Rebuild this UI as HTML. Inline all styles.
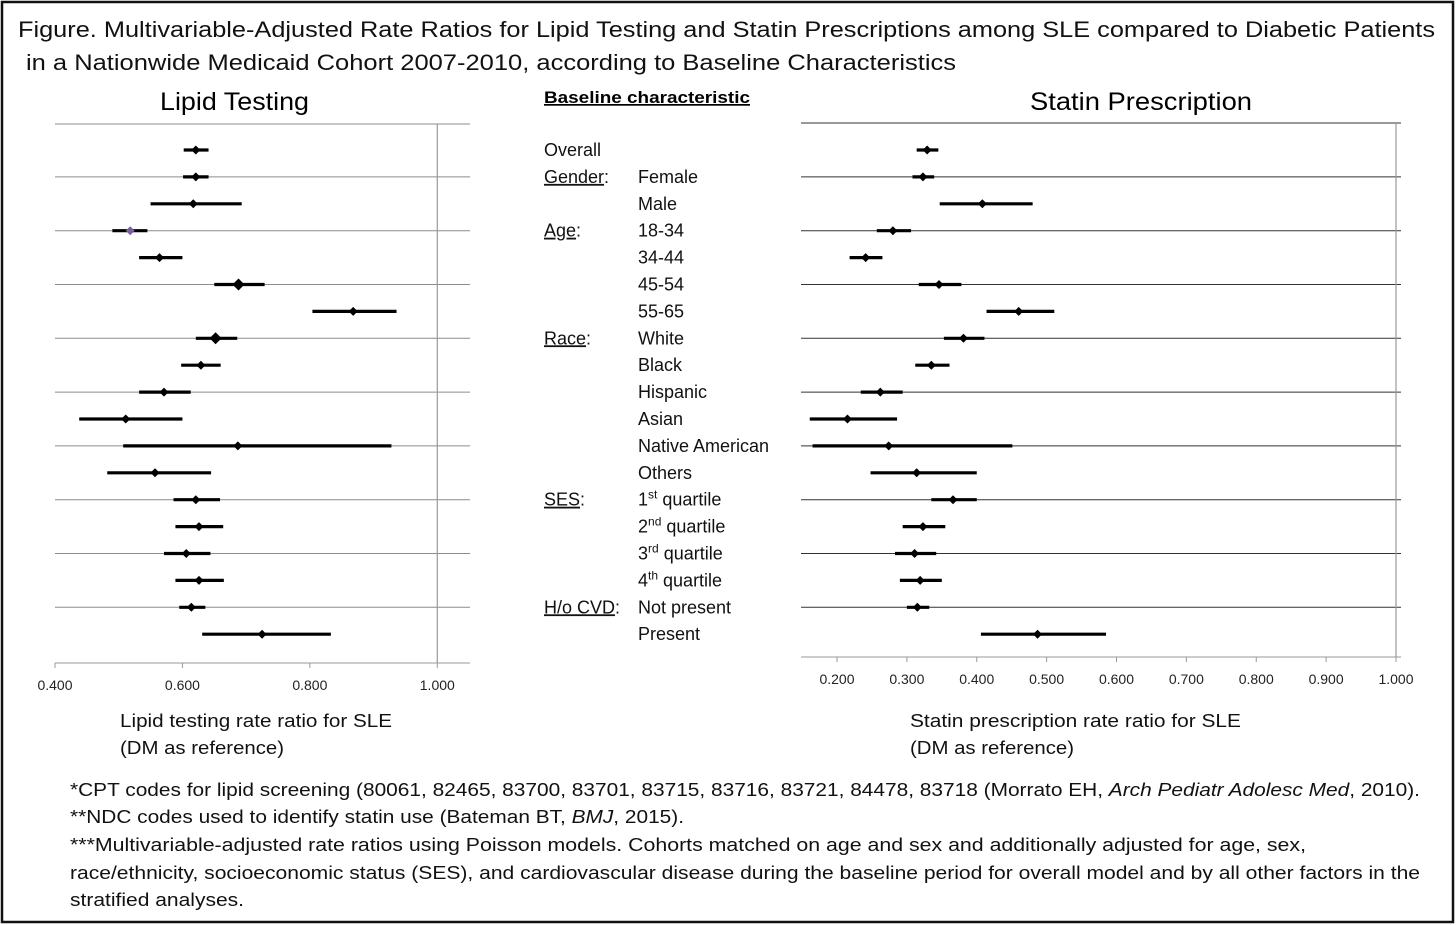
<!DOCTYPE html>
<html><head><meta charset="utf-8"><style>
html,body{margin:0;padding:0;background:#fff;}
svg{display:block;font-family:"Liberation Sans",sans-serif;}
</style></head><body>
<svg id="fig" width="1456" height="925" viewBox="0 0 1456 925" xmlns="http://www.w3.org/2000/svg">
<rect x="2" y="2" width="1451" height="920" fill="#fff" stroke="#111" stroke-width="2.5"/>
<g font-size="22" fill="#111">
<text x="18" y="37" textLength="1417" lengthAdjust="spacingAndGlyphs">Figure. Multivariable-Adjusted Rate Ratios for Lipid Testing and Statin Prescriptions among SLE compared to Diabetic Patients</text>
<text x="26" y="70" textLength="930" lengthAdjust="spacingAndGlyphs">in a Nationwide Medicaid Cohort 2007-2010, according to Baseline Characteristics</text>
</g>
<text x="160" y="110" font-size="25" textLength="149" lengthAdjust="spacingAndGlyphs">Lipid Testing</text>
<text x="1030" y="110" font-size="25" textLength="222" lengthAdjust="spacingAndGlyphs">Statin Prescription</text>
<text x="544" y="103" font-size="17" font-weight="bold" text-decoration="underline" textLength="206" lengthAdjust="spacingAndGlyphs">Baseline characteristic</text>
<g id="labels" font-size="18" fill="#111"></g>
<g id="left"></g>
<g id="right"></g>
<g font-size="18" fill="#111">
<text x="120" y="727" textLength="272" lengthAdjust="spacingAndGlyphs">Lipid testing rate ratio for SLE</text>
<text x="120" y="754" textLength="164" lengthAdjust="spacingAndGlyphs">(DM as reference)</text>
<text x="910" y="727" textLength="331" lengthAdjust="spacingAndGlyphs">Statin prescription rate ratio for SLE</text>
<text x="910" y="754" textLength="164" lengthAdjust="spacingAndGlyphs">(DM as reference)</text>
</g>
<g font-size="18" fill="#111">
<text x="70" y="796" textLength="1350" lengthAdjust="spacingAndGlyphs">*CPT codes for lipid screening (80061, 82465, 83700, 83701, 83715, 83716, 83721, 84478, 83718 (Morrato EH, <tspan font-style="italic">Arch Pediatr Adolesc Med</tspan>, 2010).</text>
<text x="70" y="823" textLength="614" lengthAdjust="spacingAndGlyphs">**NDC codes used to identify statin use (Bateman BT, <tspan font-style="italic">BMJ</tspan>, 2015).</text>
<text x="70" y="851" textLength="1236" lengthAdjust="spacingAndGlyphs">***Multivariable-adjusted rate ratios using Poisson models.  Cohorts matched on age and sex and additionally adjusted for age, sex,</text>
<text x="70" y="879" textLength="1350" lengthAdjust="spacingAndGlyphs">race/ethnicity, socioeconomic status (SES), and cardiovascular disease during the baseline period for overall model and by all other factors in the</text>
<text x="70" y="906" textLength="174" lengthAdjust="spacingAndGlyphs">stratified analyses.</text>
</g>
</svg>
<script>
const groups = ["Overall","Gender:","","Age:","","","","Race:","","","","","","SES:","","","","H/o CVD:",""];
const categories = ["","Female","Male","18-34","34-44","45-54","55-65","White","Black","Hispanic","Asian","Native American","Others","1|st| quartile","2|nd| quartile","3|rd| quartile","4|th| quartile","Not present","Present"];
const lipidEst = [0.621,0.621,0.617,0.518,0.564,0.688,0.868,0.652,0.629,0.571,0.511,0.687,0.557,0.621,0.626,0.606,0.626,0.614,0.725];
const lipidLo  = [0.602,0.601,0.550,0.490,0.532,0.650,0.804,0.621,0.598,0.532,0.438,0.507,0.482,0.586,0.589,0.571,0.589,0.595,0.631];
const lipidHi  = [0.641,0.641,0.693,0.545,0.600,0.729,0.936,0.686,0.660,0.613,0.600,0.928,0.645,0.659,0.664,0.644,0.665,0.636,0.833];
const statinEst = [0.329,0.323,0.408,0.280,0.241,0.346,0.460,0.381,0.335,0.262,0.215,0.274,0.314,0.366,0.323,0.311,0.319,0.315,0.487];
const statinLo  = [0.314,0.308,0.347,0.257,0.218,0.317,0.414,0.353,0.312,0.234,0.161,0.165,0.248,0.335,0.294,0.283,0.290,0.300,0.406];
const statinHi  = [0.345,0.339,0.480,0.306,0.265,0.378,0.511,0.411,0.361,0.294,0.286,0.451,0.400,0.400,0.355,0.342,0.350,0.332,0.585];
const lipidTicks = [0.4,0.6,0.8,1.0];
const statinTicks = [0.2,0.3,0.4,0.5,0.6,0.7,0.8,0.9,1.0];

const NS="http://www.w3.org/2000/svg";
function mk(tag,attrs,parent){const e=document.createElementNS(NS,tag);for(const k in attrs)e.setAttribute(k,attrs[k]);parent.appendChild(e);return e;}
const rowY = i => 150 + i*26.9;

const lab=document.getElementById('labels');
groups.forEach((g,i)=>{
  if(g){
    const t=mk('text',{x:544,y:rowY(i)+6},lab);
    
    
    if(g==="Overall"){t.textContent=g;}
    else{const name=g.replace(':','');const ts=mk('tspan',{'text-decoration':'underline'},t);ts.textContent=name;const c=mk('tspan',{},t);c.textContent=':';}
  }
  const c=categories[i];
  if(c){
    const t=mk('text',{x:638,y:rowY(i)+6},lab);
    
    
    const parts=c.split('|');
    if(parts.length===3){
      const a=mk('tspan',{},t);a.textContent=parts[0];
      const b=mk('tspan',{dy:-7,'font-size':12},t);b.textContent=parts[1];
      const d=mk('tspan',{dy:7},t);d.textContent=parts[2];
    } else t.textContent=c;
  }
});

function chart(gid,lineLeft,x0,x1,vmin,vmax,yTop,yAxis,lineRight,ticks,est,lo,hi,gridColor,big){
  const g=document.getElementById(gid);
  const sx=v=>x0+(v-vmin)/(vmax-vmin)*(x1-x0);
  const l=mk('line',{x1:lineLeft,y1:yTop,x2:lineRight,y2:yTop,stroke:gridColor,'stroke-width':1},g);
  
  
  for(let i=1;i<19;i+=2){
    const ln=mk('line',{x1:lineLeft,y1:rowY(i),x2:lineRight,y2:rowY(i),stroke:gridColor,'stroke-width':1},g);
    
    
  }
  const ax=mk('line',{x1:lineLeft,y1:yAxis,x2:lineRight,y2:yAxis,stroke:'#999','stroke-width':1},g);
  
  
  const ref=mk('line',{x1:sx(1.0),y1:yTop,x2:sx(1.0),y2:yAxis,stroke:'#999','stroke-width':1.2},g);
  
  
  ticks.forEach(t=>{
    const tk=mk('line',{x1:sx(t),y1:yAxis,x2:sx(t),y2:yAxis+5,stroke:'#999'},g);
    
    
    const tx=mk('text',{x:sx(t),y:yAxis+27,'font-size':14,'text-anchor':'middle',fill:'#222'},g);
    
    
    tx.textContent=t.toFixed(3);
  });
  est.forEach((v,i)=>{
    const y=rowY(i);
    const ci=mk('line',{x1:sx(lo[i]),y1:y,x2:sx(hi[i]),y2:y,stroke:'#000','stroke-width':3.2},g);
    
    
    const r=big.includes(i)?6:4.5;const cx=sx(v);
    const d=mk('polygon',{points:`${cx},${y-r} ${cx+r},${y} ${cx},${y+r} ${cx-r},${y}`,fill:(gid==='left'&&i===3)?'#7b5f9e':'#000'},g);
    
    
  });
}
chart('left',55,55,437.3,0.4,1.0,124,663,470,lipidTicks,lipidEst,lipidLo,lipidHi,'#8c8c8c',[5,7]);
chart('right',801,837,1396,0.2,1.0,123,657,1401,statinTicks,statinEst,statinLo,statinHi,'#333',[]);
</script>
</body></html>
